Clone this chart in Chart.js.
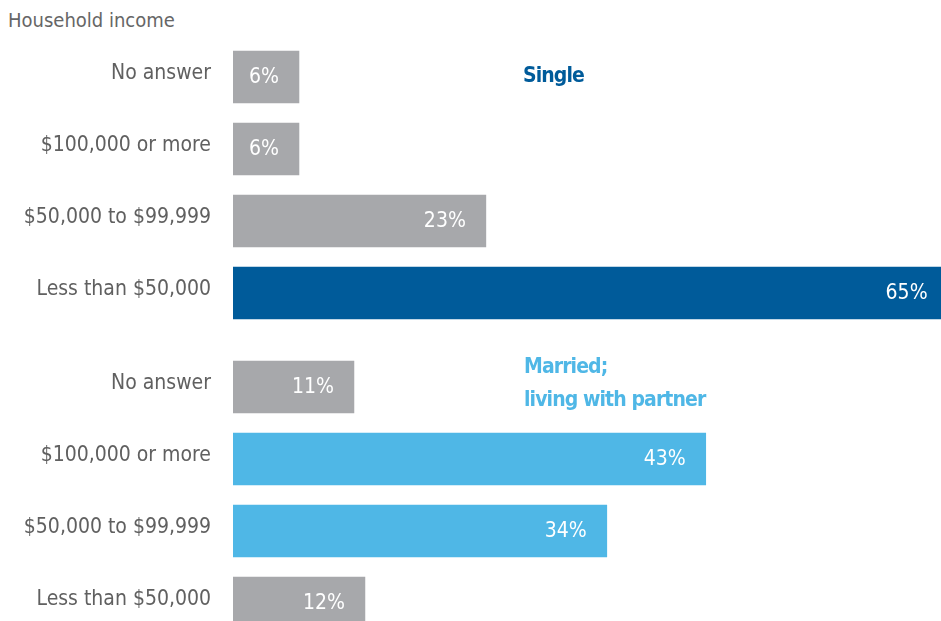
<!DOCTYPE html>
<html>
<head>
<meta charset="utf-8">
<script src="https://cdn.jsdelivr.net/npm/chart.js@4/dist/chart.umd.min.js"></script>
<style>
  html, body { margin: 0; padding: 0; background: #fff; overflow: hidden; }
  #wrap { position: relative; width: 941px; height: 621px; overflow: hidden; font-family: "DejaVu Sans Condensed", "Liberation Sans Narrow", sans-serif; }
  canvas { position: absolute; left: 0; display: block; }
  #title { position: absolute; left: 8px; top: 8px; font-size: 20px; color: #666; }
  .grp { position: absolute; font-weight: bold; font-size: 21px; line-height: 33px; letter-spacing: -0.9px; }
  #gSingle { left: 523px; top: 59px; color: #005b9a; }
  #gMarried { left: 524px; top: 350px; color: #4fb7e6; }
</style>
</head>
<body>
<div id="wrap">
  <div id="title">Household income</div>
  <canvas id="c1" width="941" height="288" style="top:41px;width:941px;height:288px"></canvas>
  <canvas id="c2" width="941" height="288" style="top:351px;width:941px;height:288px"></canvas>
  <div class="grp" id="gSingle">Single</div>
  <div class="grp" id="gMarried">Married;<br>living with partner</div>
</div>
<script>
const categories = ["No answer", "$100,000 or more", "$50,000 to $99,999", "Less than $50,000"];
const singleValues = [6, 6, 23, 65];
const marriedValues = [11, 43, 34, 12];
const singleColors = ["#a7a8ab", "#a7a8ab", "#a7a8ab", "#005b9a"];
const marriedColors = ["#a7a8ab", "#4fb7e6", "#4fb7e6", "#a7a8ab"];
const xMax = 64.4;

const FONT = "'DejaVu Sans Condensed', 'Liberation Sans Narrow', sans-serif";

const valueLabels = {
  id: 'valueLabels',
  afterDatasetsDraw(chart) {
    const ctx = chart.ctx;
    const meta = chart.getDatasetMeta(0);
    const data = chart.data.datasets[0].data;
    const xs = chart.scales.x;
    ctx.save();
    ctx.fillStyle = '#ffffff';
    ctx.font = "21px " + FONT;
    ctx.textAlign = 'right';
    ctx.textBaseline = 'middle';
    meta.data.forEach((bar, i) => {
      const end = xs.getPixelForValue(data[i]);
      ctx.fillText(data[i] + '%', end - 20, bar.y + 1);
    });
    ctx.restore();
  }
};

function makeChart(id, values, colors) {
  return new Chart(document.getElementById(id), {
    type: 'bar',
    data: {
      labels: categories,
      datasets: [{ data: values, backgroundColor: colors, barThickness: 52, borderWidth: 0 }]
    },
    options: {
      indexAxis: 'y',
      responsive: false,
      maintainAspectRatio: false,
      animation: false,
      layout: { padding: 0 },
      plugins: { legend: { display: false }, tooltip: { enabled: false } },
      scales: {
        x: { display: false, min: 0, max: xMax },
        y: {
          grid: { display: false, drawTicks: false },
          border: { display: false },
          ticks: { color: '#606060', font: { family: FONT, size: 21 }, padding: 22, labelOffset: -3 },
          afterFit(scale) {
            scale.width = 233;
            scale.paddingTop = 0;
            scale.paddingBottom = 0;
          }
        }
      }
    },
    plugins: [valueLabels]
  });
}

makeChart('c1', singleValues, singleColors);
makeChart('c2', marriedValues, marriedColors);
</script>
</body>
</html>
